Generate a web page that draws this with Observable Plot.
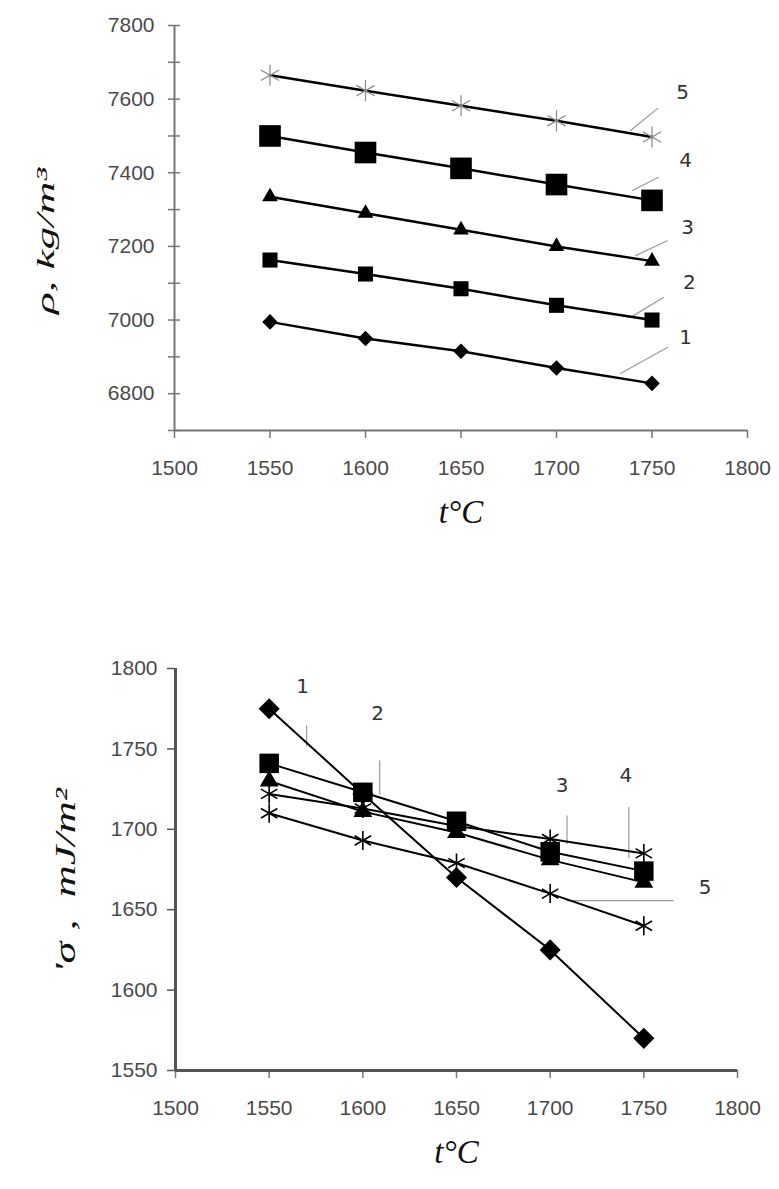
<!DOCTYPE html>
<html><head><meta charset="utf-8">
<script src="https://cdn.jsdelivr.net/npm/d3@7"></script>
<script src="https://cdn.jsdelivr.net/npm/@observablehq/plot@0.6"></script>
<style>
body{margin:0;background:#fff}
svg{display:block}
</style>
</head><body><div id="chart"></div>
<script>
// ---------- data ----------
const temps = [1550, 1600, 1650, 1700, 1750];
const seriesNames = ["1", "2", "3", "4", "5"];

// density rho, kg/m3
const rho1 = [6995, 6950, 6915, 6870, 6828];
const rho2 = [7163, 7125, 7085, 7040, 7000];
const rho3 = [7335, 7290, 7245, 7200, 7160];
const rho4 = [7500, 7455, 7412, 7368, 7325];
const rho5 = [7665, 7623, 7582, 7541, 7497];

// surface tension sigma, mJ/m2
const sig1 = [1775, 1722, 1670, 1625, 1570];
const sig2 = [1741, 1723, 1705, 1686, 1674];
const sig3 = [1730, 1711, 1698, 1681, 1667];
const sig4 = [1722, 1713, 1702, 1694, 1685];
const sig5 = [1710, 1693, 1679, 1660, 1640];

// tick labels
const tTicks = [1500, 1550, 1600, 1650, 1700, 1750, 1800];
const rhoTicks = [6700, 6800, 6900, 7000, 7100, 7200, 7300, 7400, 7500, 7600, 7700, 7800];
const rhoLabelTicks = [6800, 7000, 7200, 7400, 7600, 7800];
const sigTicks = [1550, 1600, 1650, 1700, 1750, 1800];

// axis titles
const rhoTitle = "ρ, kg/m³";
const sigTitle = "'σ ,  mJ/m²";
const tTitle = "t°C";

// where each curve-number leader starts (data units)
const rhoLeaderT = [1733.5, 1740.3, 1741.4, 1739.8, 1738.8];
const rhoLeaderV = [6855, 7012, 7175, 7352, 7515];
const sigLeaderT = [1570, 1609, 1709, 1742, 1709];
const sigLeaderV = [1752, 1722, 1691, 1682.5, 1655.7];

// ---------- helpers ----------
const rows = (arrs) => arrs.flatMap((vals, i) => vals.map((v, j) => ({series: seriesNames[i], t: temps[j], v})));
const rhoRows = rows([rho1, rho2, rho3, rho4, rho5]);
const sigRows = rows([sig1, sig2, sig3, sig4, sig5]);
const leaders = (T, V) => T.map((t, i) => ({series: seriesNames[i], t, v: V[i]}));
const rhoLead = leaders(rhoLeaderT, rhoLeaderV);
const sigLead = leaders(sigLeaderT, sigLeaderV);
const fmt = d3.format("d");

const tickFont = {fontFamily: "'Liberation Sans', Arial, sans-serif", fontSize: 21, fill: "#4a4a4a"};
const titleFont = {fontFamily: "'Liberation Serif', 'Times New Roman', serif", fontStyle: "italic", fill: "#111"};
const numFont = {fontFamily: "'DejaVu Sans', Verdana, sans-serif", fontSize: 20, fill: "#333"};

function dots(data, styles) {
  return styles.map((s, i) => Plot.dot(data.filter(d => d.series === seriesNames[i]), {
    x: "t", y: "v", symbol: s.symbol, r: s.r,
    fill: s.symbol === "asterisk" ? "none" : "#000",
    stroke: s.symbol === "asterisk" ? s.stroke : "none",
    strokeWidth: s.sw || 1
  }));
}
function leaderMarks(lead, geo) {
  return lead.flatMap((d, i) => [
    Plot.vector([d], {x: "t", y: "v", length: geo[i].len, rotate: geo[i].rot, anchor: "start", shape: "arrow", r: 0, stroke: "#9a9a9a", strokeWidth: 1.2}),
    Plot.text([d], {x: "t", y: "v", text: "series", dx: geo[i].tx, dy: geo[i].ty, ...numFont})
  ]);
}
function stretch(svg, txt, len) {
  d3.select(svg).selectAll("text").filter(function () { return this.textContent === txt; })
    .attr("textLength", len).attr("lengthAdjust", "spacingAndGlyphs");
}

// ---------- top chart ----------
const rhoChart = Plot.plot({
  width: 779, height: 560,
  marginLeft: 174, marginRight: 32, marginTop: 25, marginBottom: 130,
  style: {background: "#fff", fontFamily: "'Liberation Sans', Arial, sans-serif", fontSize: "16px"},
  x: {domain: [1500, 1800]},
  y: {domain: [6700, 7800]},
  marks: [
    Plot.axisY({ticks: rhoTicks, tickSize: 12, dx: 6, tickFormat: () => "", label: null, stroke: "#777", strokeWidth: 1.5}),
    Plot.axisY({ticks: rhoLabelTicks, tickSize: 0, tickPadding: 20, tickFormat: fmt, label: null, ...tickFont}),
    Plot.axisX({ticks: tTicks, tickSize: 8, tickPadding: 22, tickFormat: fmt, label: null, stroke: "#777", strokeWidth: 1.5, ...tickFont}),
    Plot.ruleX([1500], {stroke: "#777", strokeWidth: 2}),
    Plot.ruleY([6700], {stroke: "#777", strokeWidth: 2}),
    leaderMarks(rhoLead, [
      {len: 54, rot: 61, tx: 65, ty: -36},
      {len: 35, rot: 59, tx: 56, ty: -33},
      {len: 35, rot: 65, tx: 52, ty: -28},
      {len: 29, rot: 63, tx: 53, ty: -30},
      {len: 35, rot: 51, tx: 52, ty: -38}
    ]),
    Plot.line(rhoRows, {x: "t", y: "v", z: "series", stroke: "#000", strokeWidth: 2.5}),
    dots(rhoRows, [
      {symbol: "diamond2", r: 7},
      {symbol: "square", r: 8.5},
      {symbol: "triangle2", r: 7.5},
      {symbol: "square", r: 12.2},
      {symbol: "asterisk", r: 10, stroke: "#888", sw: 1.2}
    ]),
    Plot.text([rhoTitle], {text: d => d, frameAnchor: "left", textAnchor: "middle", rotate: -90, dx: -129, dy: 13, fontSize: 25, ...titleFont}),
    Plot.text([tTitle], {text: d => d, frameAnchor: "bottom", textAnchor: "middle", dy: 92, fontSize: 33, ...titleFont})
  ]
});
stretch(rhoChart, rhoTitle, 146);

// ---------- bottom chart ----------
const sigChart = Plot.plot({
  width: 779, height: 629,
  marginLeft: 175, marginRight: 42, marginTop: 108, marginBottom: 119,
  style: {background: "#fff", fontFamily: "'Liberation Sans', Arial, sans-serif", fontSize: "16px"},
  x: {domain: [1500, 1800]},
  y: {domain: [1550, 1800]},
  marks: [
    Plot.axisY({ticks: sigTicks, tickSize: 8, tickPadding: 10, tickFormat: fmt, label: null, stroke: "#555", strokeWidth: 1.5, ...tickFont}),
    Plot.axisX({ticks: tTicks, tickSize: 8, tickPadding: 22, tickFormat: fmt, label: null, stroke: "#777", strokeWidth: 1.5, ...tickFont}),
    Plot.ruleX([1500], {stroke: "#555", strokeWidth: 3}),
    Plot.ruleY([1550], {stroke: "#555", strokeWidth: 3}),
    leaderMarks(sigLead, [
      {len: 20, rot: 0, tx: -4, ty: -59},
      {len: 33, rot: 0, tx: -2, ty: -80},
      {len: 28, rot: 0, tx: -5, ty: -58},
      {len: 50, rot: 0, tx: -3, ty: -82},
      {len: 106, rot: 90, tx: 138, ty: -13}
    ]),
    Plot.line(sigRows, {x: "t", y: "v", z: "series", stroke: "#000", strokeWidth: 2}),
    dots(sigRows, [
      {symbol: "diamond2", r: 9.5},
      {symbol: "square", r: 11},
      {symbol: "triangle2", r: 9},
      {symbol: "asterisk", r: 9, stroke: "#000", sw: 1.6},
      {symbol: "asterisk", r: 9, stroke: "#000", sw: 1.6}
    ]),
    Plot.text([sigTitle], {text: d => d, frameAnchor: "left", textAnchor: "middle", rotate: -90, dx: -110, dy: 11, fontSize: 29, ...titleFont}),
    Plot.text([tTitle], {text: d => d, frameAnchor: "bottom", textAnchor: "middle", dy: 92, fontSize: 33, ...titleFont})
  ]
});
stretch(sigChart, sigTitle, 185);

document.getElementById("chart").append(rhoChart, sigChart);
</script>
</body></html>
